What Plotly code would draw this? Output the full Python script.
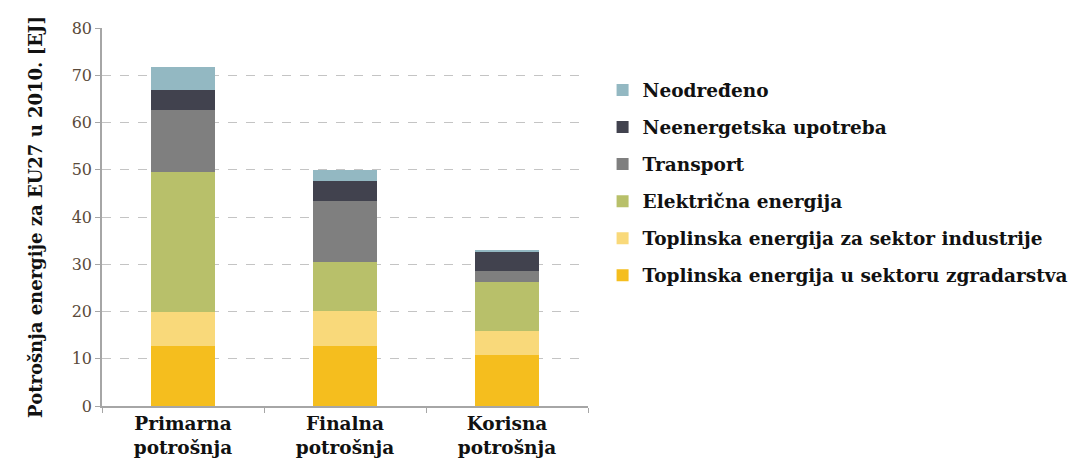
import plotly.graph_objects as go

# Categories (x axis)
categories = ["Primarna<br>potrošnja", "Finalna<br>potrošnja", "Korisna<br>potrošnja"]

# Series values [EJ], bottom to top of the stack
zgradarstvo = [12.6, 12.7, 10.8]
industrija = [7.4, 7.4, 5.1]
elektricna = [29.5, 10.3, 10.3]
transport = [13.2, 13.0, 2.3]
neenergetska = [4.2, 4.3, 4.0]
neodredeno = [4.8, 2.3, 0.5]

series = [
    ("Toplinska energija u sektoru zgradarstva", zgradarstvo, "#F5BE1E"),
    ("Toplinska energija za sektor industrije", industrija, "#F9D97A"),
    ("Električna energija", elektricna, "#B8C06A"),
    ("Transport", transport, "#7F7F7F"),
    ("Neenergetska upotreba", neenergetska, "#41424E"),
    ("Neodređeno", neodredeno, "#93B8C2"),
]

serif = "DejaVu Serif"

fig = go.Figure()
for i, (name, vals, col) in enumerate(series):
    fig.add_trace(go.Bar(
        x=categories, y=vals, name=name,
        legendgroup=str(i), legendrank=100 - i,
        marker=dict(color=col, line=dict(width=0)),
    ))

fig.update_layout(
    barmode="stack",
    bargap=0.6,
    width=1077, height=466,
    margin=dict(l=94, r=490, t=20, b=68),
    plot_bgcolor="white",
    paper_bgcolor="white",
    font=dict(family=serif, color="#222222"),
    showlegend=True,
    legend=dict(
        x=1.03, xanchor="left", y=0.885, yanchor="top",
        traceorder="grouped",
        tracegroupgap=10,
        font=dict(family=serif, size=18.5, color="#111111", weight="bold"),
        itemwidth=30,
    ),
    yaxis=dict(
        range=[0, 80], dtick=10,
        showgrid=True, gridcolor="#C4C4C4", griddash="dash", gridwidth=1,
        showline=True, linecolor="#A6A6A6", linewidth=1.5,
        ticks="outside", ticklen=5, tickcolor="#A6A6A6",
        tickfont=dict(family=serif, size=16, color="#5A4A3A"),
        title=dict(text="<b>Potrošnja energije za EU27 u 2010. [EJ]</b>",
                   font=dict(family=serif, size=18, color="#111111"),
                   standoff=24),
        zeroline=False,
    ),
    xaxis=dict(
        showline=True, linecolor="#A6A6A6", linewidth=1.5,
        ticks="outside", ticklen=5, tickcolor="#A6A6A6",
        tickson="boundaries",
        tickfont=dict(family=serif, size=18.5, color="#111111", weight="bold"),
    ),
)

fig.write_html("out.html")
